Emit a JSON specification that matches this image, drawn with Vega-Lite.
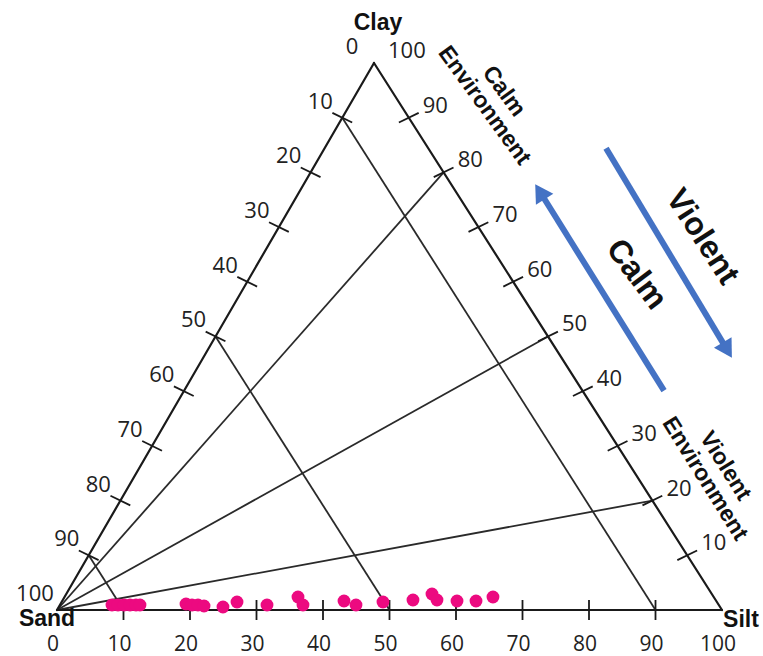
{
  "$schema": "https://vega.github.io/schema/vega-lite/v6.json",
  "width": 763,
  "height": 656,
  "padding": 0,
  "autosize": {"type": "none"},
  "background": "white",
  "config": {"view": {"stroke": null}},
  "datasets": {
    "triangle": [
      {"x": 0, "y": 0, "x2": 100, "y2": 0},
      {"x": 100, "y": 0, "x2": 47.67, "y2": 82.26},
      {"x": 47.67, "y": 82.26, "x2": 0, "y2": 0}
    ],
    "guides": [
      {"x": 42.90, "y": 74.03, "x2": 90, "y2": 0},
      {"x": 23.84, "y": 41.13, "x2": 50, "y2": 0},
      {"x": 4.77, "y": 8.23, "x2": 10, "y2": 0},
      {"x": 0, "y": 0, "x2": 58.14, "y2": 65.81},
      {"x": 0, "y": 0, "x2": 73.84, "y2": 41.13},
      {"x": 0, "y": 0, "x2": 89.53, "y2": 16.45}
    ],
    "leftAxis": [
      {"v": 0, "x": 47.67, "y": 82.26},
      {"v": 10, "x": 42.90, "y": 74.03},
      {"v": 20, "x": 38.14, "y": 65.81},
      {"v": 30, "x": 33.37, "y": 57.58},
      {"v": 40, "x": 28.60, "y": 49.36},
      {"v": 50, "x": 23.84, "y": 41.13},
      {"v": 60, "x": 19.07, "y": 32.90},
      {"v": 70, "x": 14.30, "y": 24.68},
      {"v": 80, "x": 9.53, "y": 16.45},
      {"v": 90, "x": 4.77, "y": 8.23},
      {"v": 100, "x": 0, "y": 0}
    ],
    "rightAxis": [
      {"v": 10, "x": 94.77, "y": 8.23},
      {"v": 20, "x": 89.53, "y": 16.45},
      {"v": 30, "x": 84.30, "y": 24.68},
      {"v": 40, "x": 79.07, "y": 32.90},
      {"v": 50, "x": 73.84, "y": 41.13},
      {"v": 60, "x": 68.60, "y": 49.36},
      {"v": 70, "x": 63.37, "y": 57.58},
      {"v": 80, "x": 58.14, "y": 65.81},
      {"v": 90, "x": 52.90, "y": 74.03},
      {"v": 100, "x": 47.67, "y": 82.26}
    ],
    "bottomAxis": [
      {"v": 0, "x": 0, "y": 0},
      {"v": 10, "x": 10, "y": 0},
      {"v": 20, "x": 20, "y": 0},
      {"v": 30, "x": 30, "y": 0},
      {"v": 40, "x": 40, "y": 0},
      {"v": 50, "x": 50, "y": 0},
      {"v": 60, "x": 60, "y": 0},
      {"v": 70, "x": 70, "y": 0},
      {"v": 80, "x": 80, "y": 0},
      {"v": 90, "x": 90, "y": 0},
      {"v": 100, "x": 100, "y": 0}
    ],
    "samples": [
      {"x": 8.27, "y": 0.75},
      {"x": 9.17, "y": 0.75},
      {"x": 10.08, "y": 0.75},
      {"x": 10.98, "y": 0.75},
      {"x": 11.88, "y": 0.75},
      {"x": 12.48, "y": 0.75},
      {"x": 19.40, "y": 0.90},
      {"x": 20.30, "y": 0.75},
      {"x": 21.20, "y": 0.75},
      {"x": 22.11, "y": 0.60},
      {"x": 24.96, "y": 0.45},
      {"x": 27.07, "y": 1.20},
      {"x": 31.58, "y": 0.75},
      {"x": 36.24, "y": 1.95},
      {"x": 36.99, "y": 0.75},
      {"x": 43.16, "y": 1.35},
      {"x": 44.96, "y": 0.75},
      {"x": 49.02, "y": 1.20},
      {"x": 53.53, "y": 1.50},
      {"x": 56.39, "y": 2.41},
      {"x": 57.14, "y": 1.50},
      {"x": 60.15, "y": 1.35},
      {"x": 63.01, "y": 1.35},
      {"x": 65.56, "y": 1.95}
    ],
    "arrows": [
      {"name": "Violent", "x": 82.56, "y": 69.43, "x2": 100.80, "y2": 39.08},
      {"name": "Calm", "x": 91.28, "y": 32.98, "x2": 72.62, "y2": 62.89}
    ]
  },
  "encoding": {
    "x": {"field": "x", "type": "quantitative", "scale": {"domain": [-8.571, 106.165], "nice": false, "zero": false}, "axis": null},
    "y": {"field": "y", "type": "quantitative", "scale": {"domain": [-6.918, 91.729], "nice": false, "zero": false}, "axis": null}
  },
  "layer": [
    {
      "data": {"name": "guides"},
      "mark": {"type": "rule", "color": "#2a2a2a", "strokeWidth": 1.8},
      "encoding": {"x2": {"field": "x2"}, "y2": {"field": "y2"}}
    },
    {
      "data": {"name": "triangle"},
      "mark": {"type": "rule", "color": "#1a1a1a", "strokeWidth": 2.2, "strokeCap": "round"},
      "encoding": {"x2": {"field": "x2"}, "y2": {"field": "y2"}}
    },
    {
      "data": {"name": "leftAxis"},
      "transform": [{"filter": "datum.v > 0 && datum.v < 100"}],
      "mark": {"type": "point", "shape": "stroke", "angle": 26, "size": 484, "filled": false, "color": "#1a1a1a", "strokeWidth": 1.8, "opacity": 1}
    },
    {
      "data": {"name": "rightAxis"},
      "transform": [{"filter": "datum.v < 100"}],
      "mark": {"type": "point", "shape": "stroke", "angle": -26, "size": 484, "filled": false, "color": "#1a1a1a", "strokeWidth": 1.8, "opacity": 1}
    },
    {
      "data": {"name": "bottomAxis"},
      "transform": [{"filter": "datum.v > 0 && datum.v < 100"}],
      "mark": {"type": "point", "shape": "stroke", "angle": 90, "size": 400, "filled": false, "color": "#1a1a1a", "strokeWidth": 1.8, "opacity": 1}
    },
    {
      "data": {"name": "leftAxis"},
      "mark": {"type": "text", "font": "Open Sans", "fontSize": 22, "color": "#222222", "align": "center", "baseline": "middle", "dx": -22, "dy": -16},
      "encoding": {"text": {"field": "v", "type": "quantitative"}}
    },
    {
      "data": {"name": "rightAxis"},
      "mark": {"type": "text", "font": "Open Sans", "fontSize": 22, "color": "#222222", "align": "left", "baseline": "middle", "dx": 14, "dy": -12},
      "encoding": {"text": {"field": "v", "type": "quantitative"}}
    },
    {
      "data": {"name": "bottomAxis"},
      "mark": {"type": "text", "font": "Open Sans", "fontSize": 21, "color": "#222222", "align": "center", "baseline": "middle", "dx": -4, "dy": 35},
      "encoding": {"text": {"field": "v", "type": "quantitative"}}
    },
    {
      "data": {"values": [{"name": "Clay", "x": 47.67, "y": 82.26}]},
      "mark": {"type": "text", "font": "Liberation Sans", "fontWeight": "bold", "fontSize": 23, "color": "#111111", "align": "center", "baseline": "alphabetic", "dx": 4, "dy": -33},
      "encoding": {"text": {"field": "name"}}
    },
    {
      "data": {"values": [{"name": "Sand", "x": 0, "y": 0}]},
      "mark": {"type": "text", "font": "Liberation Sans", "fontWeight": "bold", "fontSize": 23, "color": "#111111", "align": "center", "baseline": "alphabetic", "dx": -10, "dy": 16},
      "encoding": {"text": {"field": "name"}}
    },
    {
      "data": {"values": [{"name": "Silt", "x": 100, "y": 0}]},
      "mark": {"type": "text", "font": "Liberation Sans", "fontWeight": "bold", "fontSize": 23, "color": "#111111", "align": "center", "baseline": "alphabetic", "dx": 19, "dy": 17},
      "encoding": {"text": {"field": "name"}}
    },
    {
      "data": {"name": "samples"},
      "mark": {"type": "circle", "size": 165, "color": "#EC0A80", "opacity": 1}
    },
    {
      "data": {"name": "arrows"},
      "mark": {"type": "rule", "color": "#4472C4", "strokeWidth": 6},
      "encoding": {"x2": {"field": "x2"}, "y2": {"field": "y2"}}
    },
    {
      "data": {"name": "arrows"},
      "transform": [{"filter": "datum.name == 'Violent'"}],
      "mark": {"type": "point", "shape": "triangle-up", "angle": 149, "size": 420, "filled": true, "color": "#4472C4", "opacity": 1},
      "encoding": {"x": {"field": "x2", "type": "quantitative"}, "y": {"field": "y2", "type": "quantitative"}}
    },
    {
      "data": {"name": "arrows"},
      "transform": [{"filter": "datum.name == 'Calm'"}],
      "mark": {"type": "point", "shape": "triangle-up", "angle": 328, "size": 420, "filled": true, "color": "#4472C4", "opacity": 1},
      "encoding": {"x": {"field": "x2", "type": "quantitative"}, "y": {"field": "y2", "type": "quantitative"}}
    },
    {
      "data": {"values": [{"label": "Violent", "x": 97.07, "y": 56.14}]},
      "mark": {"type": "text", "font": "Liberation Sans", "fontWeight": "bold", "fontSize": 32, "color": "#111111", "align": "center", "baseline": "middle", "angle": 57},
      "encoding": {"text": {"field": "label"}}
    },
    {
      "data": {"values": [{"label": "Calm", "x": 87.17, "y": 50.50}]},
      "mark": {"type": "text", "font": "Liberation Sans", "fontWeight": "bold", "fontSize": 32, "color": "#111111", "align": "center", "baseline": "middle", "angle": 53},
      "encoding": {"text": {"field": "label"}}
    },
    {
      "data": {"values": [{"label": "Calm\nEnvironment", "x": 67.2, "y": 78.0}]},
      "mark": {"type": "text", "font": "Liberation Sans", "fontWeight": "bold", "fontSize": 23, "lineHeight": 24, "lineBreak": "\n", "color": "#111111", "align": "center", "baseline": "middle", "angle": 54},
      "encoding": {"text": {"field": "label"}}
    },
    {
      "data": {"values": [{"label": "Violent\nEnvironment", "x": 100.51, "y": 21.67}]},
      "mark": {"type": "text", "font": "Liberation Sans", "fontWeight": "bold", "fontSize": 23, "lineHeight": 24, "lineBreak": "\n", "color": "#111111", "align": "center", "baseline": "middle", "angle": 58},
      "encoding": {"text": {"field": "label"}}
    }
  ]
}
